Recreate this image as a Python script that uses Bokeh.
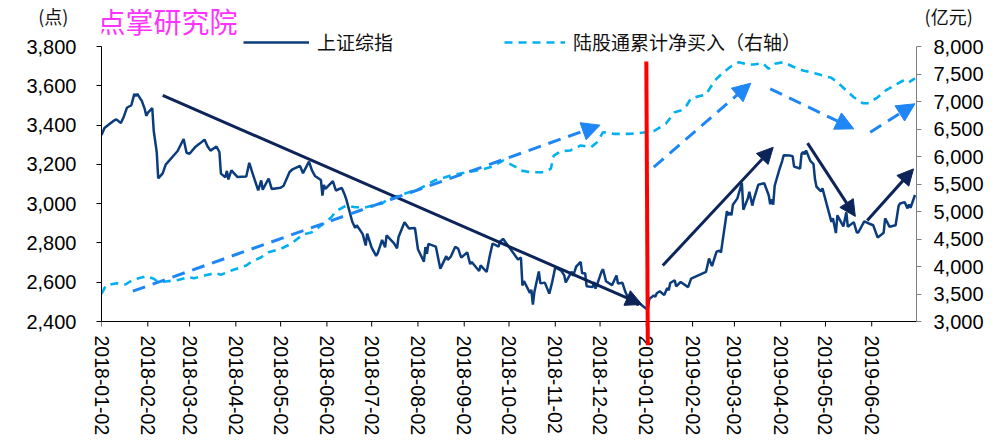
import pandas as pd
from bokeh.plotting import figure
from bokeh.models import (Range1d, LinearAxis, FixedTicker, NumeralTickFormatter,
                          DatetimeTickFormatter, Arrow, NormalHead, Label, Legend,
                          LegendItem, ColumnDataSource, Span)
from bokeh.embed import file_html
from bokeh.resources import INLINE

# ---------------- data ----------------
sse_dates = [
    "2018-01-02", "2018-01-04", "2018-01-08", "2018-01-10", "2018-01-12", "2018-01-15", "2018-01-17",
    "2018-01-19", "2018-01-22", "2018-01-24", "2018-01-25", "2018-01-26", "2018-01-29", "2018-01-31",
    "2018-02-01", "2018-02-02", "2018-02-05", "2018-02-06", "2018-02-08", "2018-02-09", "2018-02-12",
    "2018-02-14", "2018-02-22", "2018-02-26", "2018-02-28", "2018-03-02", "2018-03-06", "2018-03-09",
    "2018-03-12", "2018-03-14", "2018-03-16", "2018-03-20", "2018-03-22", "2018-03-23", "2018-03-26",
    "2018-03-27", "2018-03-28", "2018-03-30", "2018-04-03", "2018-04-09", "2018-04-11", "2018-04-13",
    "2018-04-17", "2018-04-19", "2018-04-20", "2018-04-24", "2018-04-26", "2018-05-02", "2018-05-04",
    "2018-05-08", "2018-05-10", "2018-05-15", "2018-05-17", "2018-05-21", "2018-05-23", "2018-05-25",
    "2018-05-29", "2018-05-30", "2018-05-31", "2018-06-01", "2018-06-06", "2018-06-08", "2018-06-12",
    "2018-06-14", "2018-06-15", "2018-06-19", "2018-06-21", "2018-06-22", "2018-06-26", "2018-06-28",
    "2018-06-29", "2018-07-02", "2018-07-05", "2018-07-06", "2018-07-09", "2018-07-11", "2018-07-12",
    "2018-07-17", "2018-07-19", "2018-07-20", "2018-07-24", "2018-07-27", "2018-07-31", "2018-08-02",
    "2018-08-06", "2018-08-07", "2018-08-08", "2018-08-09", "2018-08-14", "2018-08-16", "2018-08-17",
    "2018-08-21", "2018-08-22", "2018-08-24", "2018-08-27", "2018-08-29", "2018-08-31", "2018-09-04",
    "2018-09-06", "2018-09-07", "2018-09-12", "2018-09-13", "2018-09-17", "2018-09-19", "2018-09-21",
    "2018-09-25", "2018-09-26", "2018-09-28", "2018-10-08", "2018-10-10", "2018-10-11", "2018-10-12",
    "2018-10-16", "2018-10-17", "2018-10-18", "2018-10-19", "2018-10-22", "2018-10-23", "2018-10-26",
    "2018-10-29", "2018-10-31", "2018-11-02", "2018-11-06", "2018-11-08", "2018-11-09", "2018-11-13",
    "2018-11-14", "2018-11-16", "2018-11-19", "2018-11-20", "2018-11-22", "2018-11-23", "2018-11-27",
    "2018-11-28", "2018-11-29", "2018-11-30", "2018-12-03", "2018-12-04", "2018-12-06", "2018-12-10",
    "2018-12-13", "2018-12-14", "2018-12-17", "2018-12-19", "2018-12-21", "2018-12-24", "2018-12-27",
    "2018-12-28", "2019-01-02", "2019-01-03", "2019-01-04", "2019-01-07", "2019-01-08", "2019-01-09",
    "2019-01-11", "2019-01-14", "2019-01-16", "2019-01-17", "2019-01-18", "2019-01-21", "2019-01-22",
    "2019-01-25", "2019-01-30", "2019-02-01", "2019-02-11", "2019-02-13", "2019-02-15", "2019-02-18",
    "2019-02-20", "2019-02-21", "2019-02-22", "2019-02-25", "2019-02-26", "2019-02-27", "2019-02-28",
    "2019-03-01", "2019-03-04", "2019-03-05", "2019-03-07", "2019-03-08", "2019-03-11", "2019-03-12",
    "2019-03-14", "2019-03-15", "2019-03-18", "2019-03-22", "2019-03-25", "2019-03-26", "2019-03-27",
    "2019-03-28", "2019-03-29", "2019-04-01", "2019-04-03", "2019-04-04", "2019-04-08", "2019-04-10",
    "2019-04-11", "2019-04-15", "2019-04-16", "2019-04-17", "2019-04-18", "2019-04-19", "2019-04-22",
    "2019-04-24", "2019-04-25", "2019-04-26", "2019-04-29", "2019-04-30", "2019-05-06", "2019-05-07",
    "2019-05-09", "2019-05-10", "2019-05-14", "2019-05-16", "2019-05-17", "2019-05-21", "2019-05-23",
    "2019-05-24", "2019-05-28", "2019-05-31", "2019-06-03", "2019-06-06", "2019-06-10", "2019-06-11",
    "2019-06-14", "2019-06-18", "2019-06-20", "2019-06-21", "2019-06-24", "2019-06-26", "2019-06-27",
    "2019-06-28", "2019-07-01",
]
sse_vals = [
    3349, 3385, 3409, 3421, 3429, 3410, 3444,
    3488, 3501, 3559, 3548, 3558, 3523, 3481,
    3447, 3462, 3487, 3370, 3262, 3129, 3154,
    3199, 3268, 3329, 3259, 3254, 3290, 3307,
    3326, 3292, 3270, 3291, 3263, 3153, 3134,
    3167, 3123, 3169, 3136, 3138, 3208, 3159,
    3067, 3118, 3071, 3128, 3075, 3081, 3091,
    3161, 3175, 3192, 3155, 3214, 3169, 3141,
    3120, 3041, 3095, 3075, 3115, 3067, 3080,
    3044, 3022, 2908, 2876, 2890, 2845, 2787,
    2847, 2776, 2734, 2747, 2815, 2778, 2838,
    2798, 2773, 2830, 2905, 2873, 2876, 2768,
    2705, 2779, 2744, 2795, 2781, 2706, 2669,
    2733, 2714, 2730, 2781, 2770, 2725, 2752,
    2692, 2703, 2657, 2686, 2652, 2730, 2797,
    2781, 2806, 2821, 2716, 2725, 2583, 2606,
    2546, 2561, 2486, 2550, 2655, 2594, 2598,
    2542, 2603, 2676, 2659, 2635, 2599, 2654,
    2632, 2679, 2703, 2645, 2646, 2580, 2575,
    2601, 2567, 2588, 2654, 2666, 2605, 2585,
    2634, 2594, 2597, 2550, 2516, 2527, 2483,
    2494, 2465, 2464, 2515, 2533, 2526, 2544,
    2554, 2535, 2570, 2559, 2596, 2610, 2579,
    2601, 2575, 2618, 2653, 2721, 2682, 2755,
    2761, 2751, 2804, 2961, 2941, 2954, 2941,
    2994, 3027, 3054, 3106, 2969, 3026, 3060,
    2990, 3022, 3096, 3104, 3043, 2997, 3022,
    2995, 3091, 3171, 3217, 3246, 3245, 3242,
    3189, 3178, 3254, 3263, 3251, 3271, 3216,
    3201, 3124, 3086, 3063, 3078, 2907, 2926,
    2850, 2940, 2884, 2956, 2882, 2906, 2853,
    2853, 2910, 2899, 2890, 2827, 2852, 2925,
    2882, 2890, 2988, 3001, 3008, 2976, 2996,
    2979, 3044,
]

nb_dates = [
    "2018-01-02", "2018-01-05", "2018-01-12", "2018-01-18", "2018-01-23", "2018-02-01", "2018-02-06",
    "2018-02-09", "2018-02-14", "2018-02-23", "2018-03-01", "2018-03-05", "2018-03-12", "2018-03-19",
    "2018-03-23", "2018-03-30", "2018-04-09", "2018-04-12", "2018-04-19", "2018-04-24", "2018-05-02",
    "2018-05-09", "2018-05-17", "2018-05-23", "2018-05-30", "2018-06-05", "2018-06-08", "2018-06-15",
    "2018-06-21", "2018-06-28", "2018-07-09", "2018-07-13", "2018-07-24", "2018-08-03", "2018-08-13",
    "2018-08-24", "2018-09-04", "2018-09-13", "2018-09-21", "2018-09-28", "2018-10-08", "2018-10-10",
    "2018-10-16", "2018-10-25", "2018-10-30", "2018-11-01", "2018-11-06", "2018-11-12", "2018-11-19",
    "2018-11-26", "2018-11-30", "2018-12-04", "2018-12-11", "2018-12-21", "2018-12-28", "2019-01-07",
    "2019-01-15", "2019-01-21", "2019-01-25", "2019-01-29", "2019-02-01", "2019-02-11", "2019-02-14",
    "2019-02-18", "2019-02-22", "2019-02-27", "2019-03-05", "2019-03-11", "2019-03-15", "2019-03-21",
    "2019-03-25", "2019-03-29", "2019-04-04", "2019-04-10", "2019-04-17", "2019-04-26", "2019-05-06",
    "2019-05-10", "2019-05-16", "2019-05-21", "2019-05-27", "2019-05-31", "2019-06-06", "2019-06-12",
    "2019-06-19", "2019-06-24", "2019-06-27", "2019-07-01",
]
nb_vals = [
    3504, 3655, 3697, 3673, 3758, 3824, 3776,
    3715, 3727, 3758, 3806, 3788, 3836, 3879,
    3849, 3927, 4018, 4078, 4169, 4260, 4321,
    4413, 4582, 4624, 4764, 4896, 5005, 5109,
    5078, 5078, 5145, 5230, 5321, 5412, 5563,
    5654, 5715, 5758, 5818, 5927, 5790, 5745,
    5715, 5715, 5776, 6018, 6097, 6109, 6200,
    6169, 6260, 6442, 6412, 6412, 6424, 6460,
    6594, 6806, 6836, 6927, 7060, 7127, 7260,
    7412, 7515, 7624, 7715, 7673, 7673, 7697,
    7594, 7685, 7715, 7636, 7564, 7503, 7430,
    7351, 7200, 7078, 6969, 6969, 7078, 7212,
    7321, 7394, 7351, 7420,
]

tick_dates = ["2018-01-02", "2018-02-02", "2018-03-02", "2018-04-02", "2018-05-02", "2018-06-02",
              "2018-07-02", "2018-08-02", "2018-09-02", "2018-10-02", "2018-11-02", "2018-12-02",
              "2019-01-02", "2019-02-02", "2019-03-02", "2019-04-02", "2019-05-02", "2019-06-02"]
left_ticks = [2400, 2600, 2800, 3000, 3200, 3400, 3600, 3800]
right_ticks = [3000, 3500, 4000, 4500, 5000, 5500, 6000, 6500, 7000, 7500, 8000]

# trend arrows on the index (left axis)
trend_x0 = ["2018-02-12", "2019-01-13", "2019-04-20", "2019-05-30"]
trend_y0 = [3551, 2685, 3308, 2914]
trend_x1 = ["2018-12-30", "2019-03-28", "2019-05-22", "2019-06-30"]
trend_y1 = [2487, 3287, 2935, 3177]
# trend arrows on northbound flows (right axis)
flow_x0 = ["2018-01-23", "2019-01-07", "2019-03-26", "2019-06-01"]
flow_y0 = [3551, 5806, 7230, 6442]
flow_x1 = ["2018-12-02", "2019-03-13", "2019-05-21", "2019-07-01"]
flow_y1 = [6570, 7333, 6503, 6958]
# red divider line (left-axis units; runs down into the date labels)
divider_x = ["2019-01-02", "2019-01-03"]
divider_y = [3724, 2278]

series_names = ["上证综指", "陆股通累计净买入（右轴）"]
brand = "点掌研究院"
left_unit = "(点)"
right_unit = "(亿元)"


def ms(dates):
    return (pd.to_datetime(dates).astype("int64") // 10**6).tolist()


NAVY = "#0B3C7D"
ARROW_NAVY = "#0C2458"
LIGHT = "#00B0F0"
BLUE = "#1E86F5"
CJK = "Noto Sans CJK SC"
LAT = "Liberation Sans"

# layout: the frame spans from the canvas top to 24px below the x-axis line,
# so that the header texts and the red divider are drawn inside it.
TOP_PAD = 46          # px between canvas top and the highest tick
PLOT_H = 275          # px between highest and lowest tick
BOT_PAD = 24          # px between the x-axis line and the frame bottom
lpx = (left_ticks[-1] - left_ticks[0]) / PLOT_H
rpx = (right_ticks[-1] - right_ticks[0]) / PLOT_H
left_top, left_bot = left_ticks[-1] + TOP_PAD * lpx, left_ticks[0] - BOT_PAD * lpx
right_top, right_bot = right_ticks[-1] + TOP_PAD * rpx, right_ticks[0] - BOT_PAD * rpx

p = figure(width=1003, height=444, x_axis_type="datetime",
           x_range=Range1d(pd.Timestamp("2018-01-02"), pd.Timestamp("2019-07-02")),
           y_range=Range1d(left_bot, left_top),
           output_backend="svg", toolbar_location=None,
           min_border_left=101, min_border_right=87, min_border_top=0, min_border_bottom=99)
p.extra_y_ranges = {"right": Range1d(right_bot, right_top)}
p.xgrid.visible = False
p.ygrid.visible = False
p.outline_line_color = None
p.background_fill_color = "white"
p.border_fill_color = "white"

sse_src = ColumnDataSource(dict(x=pd.to_datetime(sse_dates), y=sse_vals))
nb_src = ColumnDataSource(dict(x=pd.to_datetime(nb_dates), y=nb_vals))

# x-axis line and tick marks (drawn at the 2400 level inside the extended frame)
p.add_layout(Span(location=left_ticks[0], dimension="width", line_color="black", line_width=1))
tms = ms(tick_dates)
p.segment(x0=tms, y0=[left_ticks[0]] * len(tms), x1=tms,
          y1=[left_ticks[0] - 5 * lpx] * len(tms), line_color="black", line_width=1)

r_nb = p.line("x", "y", source=nb_src, y_range_name="right", line_color=LIGHT,
              line_width=2.6, line_dash="8 6")
r_sse = p.line("x", "y", source=sse_src, line_color=NAVY, line_width=2.5)

# arrows
tx0, tx1 = ms(trend_x0), ms(trend_x1)
for i in range(len(tx0)):
    p.add_layout(Arrow(end=NormalHead(size=16, fill_color=ARROW_NAVY, line_color=ARROW_NAVY),
                       x_start=tx0[i], y_start=trend_y0[i], x_end=tx1[i], y_end=trend_y1[i],
                       line_color=ARROW_NAVY, line_width=3))
fx0, fx1 = ms(flow_x0), ms(flow_x1)
for i in range(len(fx0)):
    p.add_layout(Arrow(end=NormalHead(size=18, fill_color=BLUE, line_color=BLUE),
                       x_start=fx0[i], y_start=flow_y0[i], x_end=fx1[i], y_end=flow_y1[i],
                       y_range_name="right", line_color=BLUE, line_width=3, line_dash="13 8"))
dx = ms(divider_x)
p.add_layout(Arrow(end=None, x_start=dx[0], y_start=divider_y[0], x_end=dx[1], y_end=divider_y[1],
                   line_color="#FF0000", line_width=4, level="overlay"))

# axes
xa = p.xaxis[0]
xa.ticker = FixedTicker(ticks=tms)
fmt = "%Y-%m-%d"
xa.formatter = DatetimeTickFormatter(milliseconds=fmt, seconds=fmt, minsec=fmt, minutes=fmt,
                                     hourmin=fmt, hours=fmt, days=fmt, months=fmt, years=fmt)
xa.major_label_orientation = "vertical"
xa.major_label_text_font = LAT
xa.major_label_text_font_size = "19.5px"
xa.major_label_text_color = "black"
xa.major_label_standoff = -10
xa.major_tick_in = 0
xa.major_tick_out = 0
xa.minor_tick_out = 0
xa.minor_tick_in = 0
xa.axis_line_color = None
xa.major_tick_line_color = None

ya = p.yaxis[0]
ya.ticker = FixedTicker(ticks=left_ticks)
ya.formatter = NumeralTickFormatter(format="0,0")
ya.bounds = (left_ticks[0], left_ticks[-1])
ya.major_label_text_font = LAT
ya.major_label_text_font_size = "20px"
ya.major_label_text_color = "black"
ya.major_label_standoff = 20
ya.major_tick_in = 0
ya.major_tick_out = 5
ya.minor_tick_out = 0
ya.axis_line_color = "black"
ya.major_tick_line_color = "black"

ra = LinearAxis(y_range_name="right", ticker=FixedTicker(ticks=right_ticks),
                formatter=NumeralTickFormatter(format="0,0"))
ra.bounds = (right_ticks[0], right_ticks[-1])
ra.major_label_text_font = LAT
ra.major_label_text_font_size = "20px"
ra.major_label_text_color = "black"
ra.major_label_standoff = 12
ra.major_tick_in = 0
ra.major_tick_out = 5
ra.minor_tick_out = 0
ra.axis_line_color = "#808080"
ra.major_tick_line_color = "#808080"
p.add_layout(ra, "right")

# unit labels as horizontal axis labels at the top end of each axis
for ax, txt, so in ((ya, left_unit, -45), (ra, right_unit, -62)):
    ax.axis_label = "\n" + txt
    ax.axis_label_text_font = CJK
    ax.axis_label_text_font_size = "18px"
    ax.axis_label_text_font_style = "normal"
    ax.axis_label_text_color = "#111111"
    ax.axis_label_text_line_height = 1.2
    ax.axis_label_orientation = "horizontal"
    ax.axis_label_standoff = so
    try:
        ax.axis_label_align = "end"
    except Exception:
        pass

# legends (inside the frame, which reaches the canvas top)
def make_legend(name, rend, loc, gw):
    lg = Legend(items=[LegendItem(label=name, renderers=[rend])], location=loc,
                orientation="horizontal", border_line_color=None, background_fill_alpha=0,
                padding=0, margin=0, spacing=0, glyph_width=gw, glyph_height=20,
                label_standoff=8, label_text_font=CJK, label_text_font_size="19px",
                label_text_color="#111111", label_height=20)
    p.add_layout(lg)

FRAME_H = TOP_PAD + PLOT_H + BOT_PAD
make_legend(series_names[0], r_sse, (142, FRAME_H - 42 - 13), 66)
make_legend(series_names[1], r_nb, (403, FRAME_H - 42 - 13), 61)

p.add_layout(Label(x=-4, y=FRAME_H - 20, x_units="screen", y_units="screen", text=brand,
                   text_font=CJK, text_font_size="28px", text_color="#FF33FF",
                   text_baseline="middle", text_align="left"))

open("out.html", "w").write(file_html(p, INLINE))
